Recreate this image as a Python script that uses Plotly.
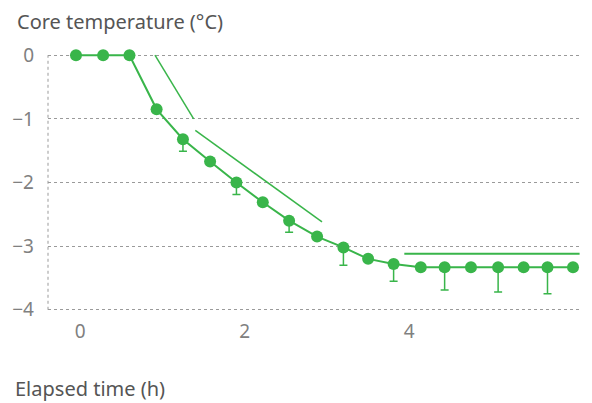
import plotly.graph_objects as go

GREEN = "#39B54A"

times = [-0.05, 0.28, 0.6, 0.93, 1.25, 1.58, 1.9, 2.22, 2.54, 2.88, 3.2, 3.5, 3.81, 4.14, 4.43, 4.75, 5.08, 5.39, 5.68, 5.99]
temps = [0.0, 0.0, 0.0, -0.85, -1.32, -1.67, -2.0, -2.31, -2.6, -2.85, -3.02, -3.2, -3.28, -3.33, -3.33, -3.33, -3.33, -3.33, -3.33, -3.33]
err_down = [0, 0, 0, 0, 0.19, 0, 0.19, 0, 0.18, 0, 0.28, 0, 0.27, 0, 0.36, 0, 0.39, 0, 0.42, 0]

trend_a_x = [0.91, 1.38]
trend_a_y = [0.0, -1.0]
trend_b_x = [1.4, 2.94]
trend_b_y = [-1.18, -2.62]
trend_c_x = [3.94, 6.07]
trend_c_y = [-3.12, -3.12]

x_ticks = [0, 2, 4]
y_ticks = [0, -1, -2, -3, -4]
y_labels = ["0", "\u22121", "\u22122", "\u22123", "\u22124"]

fig = go.Figure()
for tx, ty, w in [(trend_a_x, trend_a_y, 1.5), (trend_b_x, trend_b_y, 1.5), (trend_c_x, trend_c_y, 2)]:
    fig.add_trace(go.Scatter(x=tx, y=ty, mode="lines", line=dict(color=GREEN, width=w),
                             hoverinfo="skip", showlegend=False, cliponaxis=False))

fig.add_trace(go.Scatter(
    x=times, y=temps, mode="lines+markers",
    line=dict(color=GREEN, width=2),
    marker=dict(color=GREEN, size=12),
    error_y=dict(type="data", symmetric=False, array=[0] * len(err_down), arrayminus=err_down,
                 color=GREEN, thickness=1.5, width=4),
    showlegend=False, cliponaxis=False))

fig.add_shape(type="line", xref="paper", yref="paper", x0=0, x1=0, y0=0.0086, y1=0.9914,
              line=dict(color="#9a9a9a", width=1, dash="dot"), layer="below")

fig.update_layout(
    width=592, height=403,
    margin=dict(l=40, r=20, t=45, b=99),
    plot_bgcolor="white", paper_bgcolor="white",
    font=dict(family="Noto Sans", color="#666666", size=19),
    xaxis=dict(range=[-0.39, 6.075], tickvals=x_ticks, showgrid=False, zeroline=False,
               showline=False, ticks="", ticklabelstandoff=6, automargin=False,
               tickfont=dict(size=19, color="#808080")),
    yaxis=dict(range=[-4.035, 0.035], tickvals=y_ticks, ticktext=y_labels, showgrid=True,
               gridcolor="#9a9a9a", griddash="dot", gridwidth=1, zeroline=False,
               showline=False, ticks="", ticklabelstandoff=13, automargin=False,
               tickfont=dict(size=19, color="#808080")),
    annotations=[
        dict(text="Core temperature (°C)", xref="paper", yref="paper",
             x=-0.062, y=1.120, xanchor="left", yanchor="middle", showarrow=False,
             font=dict(size=20, color="#555555")),
        dict(text="Elapsed time (h)", xref="paper", yref="paper",
             x=-0.066, y=-0.297, xanchor="left", yanchor="middle", showarrow=False,
             font=dict(size=20, color="#555555")),
    ],
)

fig.write_html("out.html")
